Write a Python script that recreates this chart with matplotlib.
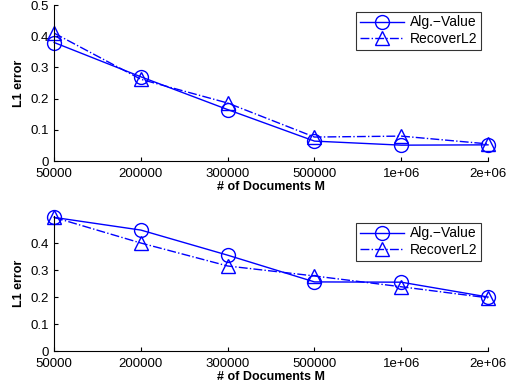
import matplotlib
matplotlib.use('Agg')
import matplotlib.pyplot as plt

plt.rcParams['font.family'] = ['Liberation Sans', 'DejaVu Sans']

docs = ['50000', '200000', '300000', '500000', '1e+06', '2e+06']
# top panel
alg_top = [0.38, 0.27, 0.165, 0.064, 0.051, 0.052]
rec_top = [0.41, 0.262, 0.186, 0.077, 0.08, 0.055]
# bottom panel
alg_bot = [0.495, 0.448, 0.355, 0.256, 0.255, 0.2]
rec_bot = [0.495, 0.40, 0.315, 0.278, 0.238, 0.197]

fig = plt.figure(figsize=(5.11, 3.9), dpi=100)
ax1 = fig.add_axes([0.106, 0.587, 0.849, 0.400])
ax2 = fig.add_axes([0.106, 0.100, 0.849, 0.346])

x = list(range(len(docs)))
for ax, a, r, yt in [(ax1, alg_top, rec_top, [0, 0.1, 0.2, 0.3, 0.4, 0.5]),
                     (ax2, alg_bot, rec_bot, [0, 0.1, 0.2, 0.3, 0.4])]:
    ax.plot(x, a, '-', marker='o', color='blue', lw=1, ms=10, mfc='none',
            label='Alg.\u2212Value', clip_on=False)
    ax.plot(x, r, '-.', marker='^', color='blue', lw=1, ms=10, mfc='none',
            label='RecoverL2', clip_on=False)
    ax.set_xlim(0, 5)
    ax.set_ylim(0, 0.5)
    ax.set_xticks(x)
    ax.set_xticklabels(docs)
    ax.set_yticks(yt)
    ax.set_yticklabels(['0' if v == 0 else '%g' % v for v in yt])
    ax.tick_params(direction='in', labelsize=9.5, length=3, width=0.8)
    ax.tick_params(axis='x', pad=5)
    ax.tick_params(axis='y', pad=4)
    ax.spines['top'].set_visible(False)
    ax.spines['right'].set_visible(False)
    ax.set_xlabel('# of Documents M', fontsize=9, fontweight='bold', labelpad=1)
    ax.set_ylabel('L1 error', fontsize=9, fontweight='bold', labelpad=4)
    leg = ax.legend(loc='upper right', fontsize=10, fancybox=False,
                    edgecolor='black', handlelength=3.2, borderpad=0.25,
                    labelspacing=0.2, handletextpad=0.4, borderaxespad=0.5)
    leg.get_frame().set_linewidth(0.8)

fig.savefig('out.png', dpi=100)
